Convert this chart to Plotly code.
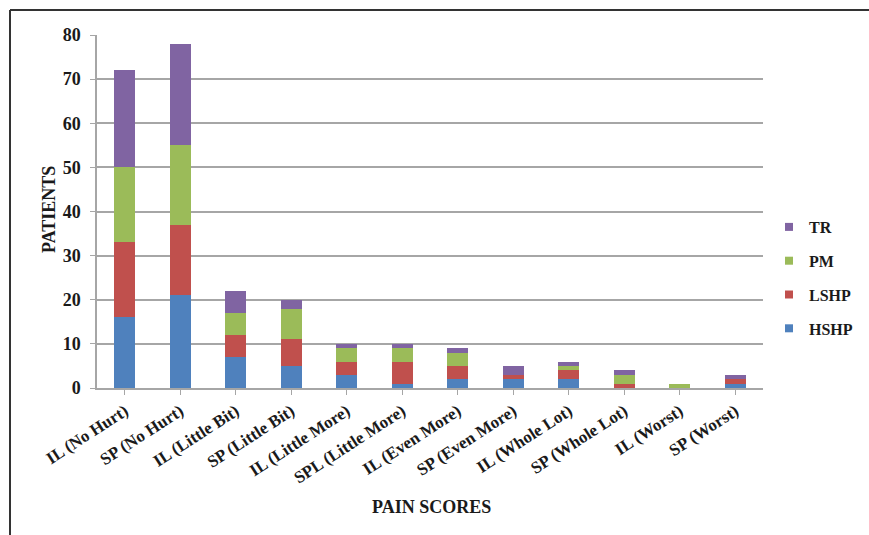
import plotly.graph_objects as go

categories = ["IL (No Hurt)", "SP (No Hurt)", "IL (Little Bit)", "SP (Little Bit)",
              "IL (Little More)", "SPL (Little More)", "IL (Even More)", "SP (Even More)",
              "IL (Whole Lot)", "SP (Whole Lot)", "IL (Worst)", "SP (Worst)"]
hshp = [16, 21, 7, 5, 3, 1, 2, 2, 2, 0, 0, 1]
lshp = [17, 16, 5, 6, 3, 5, 3, 1, 2, 1, 0, 1]
pm   = [17, 18, 5, 7, 3, 3, 3, 0, 1, 2, 1, 0]
tr   = [22, 23, 5, 2, 1, 1, 1, 2, 1, 1, 0, 1]

series = [("HSHP", hshp, "#4F81BD"), ("LSHP", lshp, "#C0504D"),
          ("PM", pm, "#9BBB59"), ("TR", tr, "#8064A2")]

font_family = "Liberation Serif"
txt = "#1a1a1a"

fig = go.Figure()
for name, vals, col in series:
    fig.add_trace(go.Bar(x=categories, y=vals, name=name, showlegend=False,
                         marker=dict(color=col, line=dict(width=0))))
# legend entries with small square swatches (top to bottom: TR, PM, LSHP, HSHP)
for name, vals, col in reversed(series):
    fig.add_trace(go.Scatter(x=[None], y=[None], mode="markers", name="<b>" + name + "</b>", legendgroup=name,
                             marker=dict(symbol="square", size=8, color=col)))

W, H = 869, 535
L, R, T, B = 97, 106, 35, 147
pw, ph = W - L - R, H - T - B

def px_x(x):
    return (x - L) / pw

def px_y(y):
    return (H - B - y) / ph

fig.update_layout(
    width=W, height=H,
    barmode="stack", bargap=0.62,
    plot_bgcolor="white", paper_bgcolor="white",
    margin=dict(l=L, r=R, t=T, b=B, autoexpand=False),
    font=dict(family=font_family, color=txt, size=17),
    legend=dict(traceorder="grouped", x=px_x(769), y=px_y(278), xanchor="left", yanchor="middle",
                font=dict(size=16, family=font_family, color=txt),
                tracegroupgap=10, itemwidth=30, bgcolor="rgba(0,0,0,0)"),
    xaxis=dict(
        tickangle=-33, showgrid=False, showline=True, linecolor="#A6A6A6", linewidth=1.5,
        ticks="outside", ticklen=5, tickcolor="#A6A6A6",
        tickfont=dict(size=17, family=font_family, color=txt),
        tickprefix="<b>", ticksuffix="</b>",
        range=[-0.5, len(categories) - 0.5],
    ),
    yaxis=dict(
        range=[0, 80], dtick=10, showgrid=True, gridcolor="#A6A6A6", gridwidth=1.5,
        showline=True, linecolor="#A6A6A6", linewidth=1.5, ticks="outside", ticklen=5, tickcolor="#A6A6A6",
        tickfont=dict(size=18, family=font_family, color=txt), zeroline=False,
        tickprefix="<b>", ticksuffix="</b>",
        ticklabelstandoff=6,
    ),
)

fig.add_annotation(text="<b>PAIN SCORES</b>", xref="paper", yref="paper", x=px_x(431), y=px_y(507),
                   showarrow=False, xanchor="center", yanchor="middle",
                   font=dict(size=18, family=font_family, color=txt))
fig.add_annotation(text="<b>PATIENTS</b>", xref="paper", yref="paper", x=px_x(49), y=px_y(210),
                   showarrow=False, xanchor="center", yanchor="middle", textangle=-90,
                   font=dict(size=18, family=font_family, color=txt))

# outer frame (top and left edges)
fig.add_shape(type="line", xref="paper", yref="paper", x0=px_x(10), x1=px_x(869), y0=px_y(10), y1=px_y(10),
              line=dict(color="#333333", width=2))
fig.add_shape(type="line", xref="paper", yref="paper", x0=px_x(10), x1=px_x(10), y0=px_y(10), y1=px_y(535),
              line=dict(color="#333333", width=2))

fig.write_html("out.html")
